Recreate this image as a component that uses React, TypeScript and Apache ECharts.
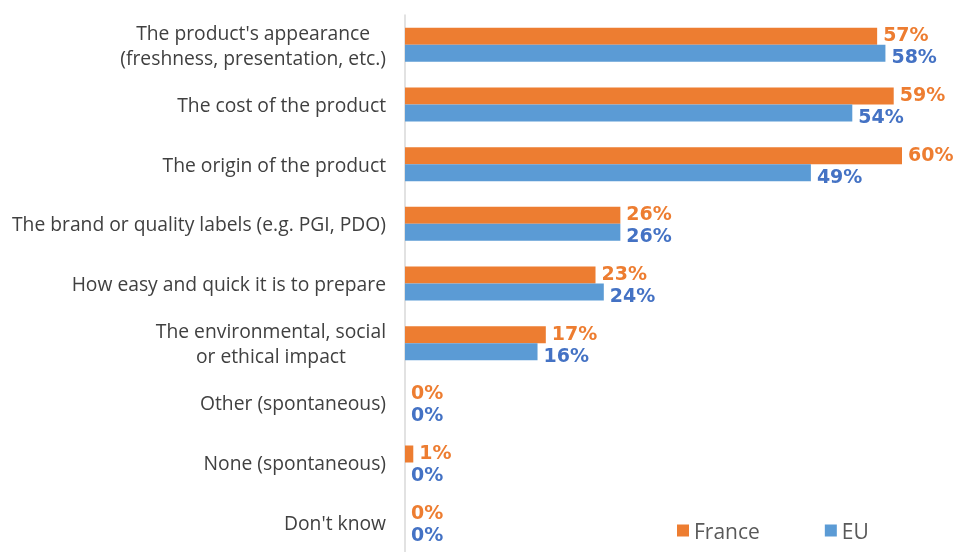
import React, { useEffect, useRef } from "react";
import * as echarts from "echarts";

const categories = [
  "The product's appearance\n(freshness, presentation, etc.)",
  "The cost of the product",
  "The origin of the product",
  "The brand or quality labels (e.g. PGI, PDO)",
  "How easy and quick it is to prepare",
  "The environmental, social\nor ethical impact",
  "Other (spontaneous)",
  "None (spontaneous)",
  "Don't know",
];
const franceValues = [57, 59, 60, 26, 23, 17, 0, 1, 0];
const euValues = [58, 54, 49, 26, 24, 16, 0, 0, 0];
const seriesNames = ["France", "EU"];

const FONT = "Open Sans";
const VFONT = "DejaVu Sans";

export default function App() {
  const ref = useRef<HTMLDivElement>(null);
  useEffect(() => {
    document.body.style.margin = "0";
    const chart = echarts.init(ref.current!, undefined, { renderer: "svg" });
    const labelStyle = (color: string, dy: number) => ({
      show: true,
      position: "right" as const,
      distance: 6,
      offset: [0, dy],
      formatter: "{c}%",
      color,
      fontFamily: VFONT,
      fontWeight: "bold" as const,
      fontSize: 19,
    });
    chart.setOption({
      animation: false,
      grid: { left: 405, top: 15, width: 497, height: 545, containLabel: false },
      legend: {
        left: 672,
        top: 515,
        icon: "rect",
        itemWidth: 12,
        itemHeight: 12,
        itemGap: 65,
        itemTextGap: 7,
        textStyle: { fontFamily: FONT, fontSize: 21, color: "#595959" },
        data: seriesNames,
      },
      xAxis: {
        type: "value",
        min: 0,
        max: 60,
        show: false,
      },
      yAxis: {
        type: "category",
        inverse: true,
        data: categories,
        axisTick: { show: false },
        axisLine: { show: true, lineStyle: { color: "#d9d9d9", width: 1.5 } },
        axisLabel: {
          margin: 19,
          color: "#404040",
          fontFamily: FONT,
          fontSize: 19.3,
          lineHeight: 25,
          formatter: (v: string) =>
            v
              .split("\n")
              .map((l) => `{c|${l}}`)
              .join("\n"),
          rich: {
            c: {
              align: "center",
              color: "#404040",
              fontFamily: FONT,
              fontSize: 19.3,
              lineHeight: 25,
            },
          },
        },
      },
      series: [
        {
          name: seriesNames[0],
          type: "bar",
          data: franceValues,
          barWidth: 17,
          barGap: "0%",
          itemStyle: { color: "#ED7D31" },
          label: labelStyle("#ED7D31", -2),
        },
        {
          name: seriesNames[1],
          type: "bar",
          data: euValues,
          barWidth: 17,
          barGap: "0%",
          itemStyle: { color: "#5B9BD5" },
          label: labelStyle("#4472C4", 3),
        },
      ],
    });
    return () => chart.dispose();
  }, []);
  return (
    <div
      ref={ref}
      style={{ position: "fixed", left: 0, top: 0, width: 960, height: 552 }}
    />
  );
}
